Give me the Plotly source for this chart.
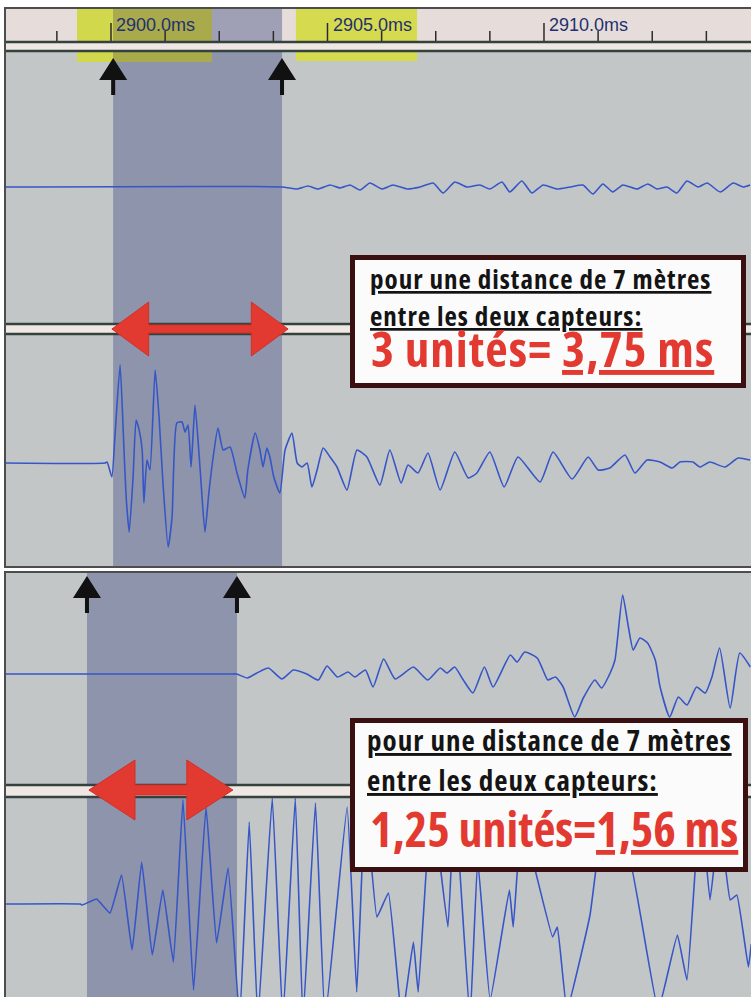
import plotly.graph_objects as go

# ---------------- data ----------------
# ruler of the upper record (ms)
top_ticks_major = [2900.0, 2905.0, 2910.0]
top_tick_labels = ["2900.0ms", "2905.0ms", "2910.0ms"]
top_ticks_minor = [2898.75, 2901.25, 2902.5, 2903.75, 2906.25, 2907.5,
                   2908.75, 2911.25, 2912.5, 2913.75]
# cursors (ms)
top_cursors_ms = [2900.05, 2903.95]
bottom_cursors_ms = [0.0, 1.5625]
# red measuring arrows (ms)
top_span_ms = [2900.02, 2904.09]
bottom_span_ms = [0.02, 1.52]

# upper record, channel 1 (time ms, amplitude)
top_ch1_t = [2897.55, 2903.95, 2904.30, 2904.55, 2904.78, 2905.06, 2905.29, 2905.52, 2905.75, 2905.98,
             2906.26, 2906.51, 2906.84, 2907.14, 2907.44, 2907.67, 2907.94, 2908.22, 2908.52, 2908.75,
             2909.03, 2909.21, 2909.49, 2909.72, 2909.98, 2910.30, 2910.60, 2910.90, 2911.13, 2911.36,
             2911.59, 2911.82, 2912.15, 2912.40, 2912.61, 2912.84, 2913.07, 2913.30, 2913.56, 2913.77,
             2914.07, 2914.37, 2914.60, 2914.76]
top_ch1_a = [0, 0, -2, 1, -2, 2, -1, 2, -3, 4,
             -2, 2, -2, 0, 4, -6, 5, 0, 2, -2,
             5, -5, 6, -6, 2, -2, 0, 2, -7, 3,
             -5, 2, -2, 3, -2, 0, -6, 6, 0, 4,
             -5, 4, 0, 2]

# upper record, channel 2
top_ch2_t = [2897.55, 2899.86, 2899.91, 2900.02, 2900.09, 2900.21, 2900.30, 2900.35, 2900.42, 2900.51,
             2900.58, 2900.65, 2900.72, 2900.76, 2900.83, 2900.90, 2901.02, 2901.11, 2901.20, 2901.32,
             2901.41, 2901.52, 2901.64, 2901.71, 2901.78, 2901.85, 2901.94, 2902.06, 2902.17, 2902.26,
             2902.36, 2902.47, 2902.59, 2902.75, 2902.91, 2903.09, 2903.16, 2903.33, 2903.44, 2903.51,
             2903.60, 2903.67, 2903.76, 2903.90, 2904.02, 2904.18, 2904.30, 2904.41, 2904.53, 2904.64,
             2904.76, 2904.90, 2905.06, 2905.22, 2905.45, 2905.68, 2905.91, 2906.21, 2906.44, 2906.70,
             2906.86, 2907.09, 2907.32, 2907.60, 2907.94, 2908.25, 2908.45, 2908.75, 2909.08, 2909.40,
             2909.91, 2910.21, 2910.65, 2911.02, 2911.25, 2911.52, 2911.87, 2912.10, 2912.38, 2912.68,
             2912.96, 2913.14, 2913.44, 2913.60, 2913.83, 2914.18, 2914.48, 2914.76]
top_ch2_a = [0, 0, 1, -14, 26, 98, 13, -34, -69, -14,
             43, 33, 13, -40, 3, -7, 93, 46, -20, -84,
             -54, 40, 41, 31, 38, -4, 58, -7, -69, -30,
             6, 35, 13, 16, -10, -35, -7, 30, 13, -4,
             15, 6, -14, -30, 13, 30, 0, -4, 0, -24,
             -7, 15, 6, -4, -27, 13, 6, -22, 13, -20,
             -2, -10, 10, -27, 11, -15, -10, 11, -24, 6,
             -19, 11, -16, 6, -7, -5, 8, -10, 3, 1,
             -5, 1, 1, -4, 1, -4, 5, 3]

# lower record, channel 1 (time ms after first cursor, amplitude)
bot_ch1_t = [-0.85, 1.49, 1.56, 1.67, 1.77, 1.89, 2.03, 2.15, 2.29, 2.41,
             2.50, 2.61, 2.72, 2.79, 2.90, 2.98, 3.09, 3.21, 3.40, 3.55,
             3.68, 3.75, 3.83, 3.92, 4.02, 4.14, 4.23, 4.41, 4.48, 4.56,
             4.69, 4.75, 4.80, 4.88, 4.96, 5.08, 5.17, 5.29, 5.36, 5.45,
             5.50, 5.58, 5.64, 5.69, 5.76, 5.84, 5.92, 5.97, 6.07, 6.16,
             6.25, 6.35, 6.44, 6.51, 6.59, 6.70, 6.80, 6.91]
bot_ch1_a = [0, 0, 0, -4, 1, 6, -5, 4, 0, -6,
             8, -3, 2, -3, 4, -13, 15, -5, 7, -6,
             6, 1, 7, -6, -19, 7, -13, 19, 12, 22,
             16, 4, -6, -3, -13, -43, -24, -6, -14, 1,
             14, 79, 47, 24, 36, 31, 14, -13, -43, -23,
             -31, -13, -19, -3, 26, -34, 21, 7]

# lower record, channel 2
bot_ch2_t = [-0.85, -0.07, -0.05, 0.10, 0.24, 0.36, 0.47, 0.57, 0.68, 0.79,
             0.90, 1.00, 1.11, 1.24, 1.35, 1.47, 1.59, 1.69, 1.78, 1.93,
             2.04, 2.17, 2.25, 2.38, 2.48, 2.71, 2.81, 2.90, 3.02, 3.14,
             3.28, 3.40, 3.45, 3.59, 3.76, 3.83, 3.99, 4.07, 4.20, 4.40,
             4.44, 4.53, 4.85, 4.90, 5.00, 5.24, 5.40, 5.53, 5.64, 5.95,
             6.15, 6.25, 6.39, 6.49, 6.59, 6.70, 6.77, 6.89, 6.92]
bot_ch2_a = [0, 0, -1, 5, -9, 29, -46, 42, -51, 14,
             -58, 104, -86, 97, -39, 36, -115, 82, -115, 106,
             -115, 106, -115, 101, -115, 97, -88, 106, -13, 11,
             -115, -38, -88, 106, -23, 106, -115, 44, -96, 14,
             -23, 84, -33, -23, -106, -11, 104, 40, 50, -106,
             -31, -76, 104, 4, 84, 4, 9, -63, -40]

# ---------------- layout geometry (pixels of the 751x997 page) ----------------
W, H = 751, 997
LEFT = 5
TOP_T, TOP_B = 8, 567
BOT_T, BOT_B = 572, 997


def pxx(x):
    return x / W


def pxy(y):
    return 1 - y / H


def ty(row):          # value on the upper panel's y axis for a pixel row
    return TOP_B - row


def by(row):          # value on the lower panel's y axis for a pixel row
    return BOT_B - row


top_xrange = [2897.552, 2914.781]
bot_xrange = [-0.854, 6.917]

BLUE = "#3656c8"
BG = "#c3c6c7"
SHADE = "#586190"
LINE_DARK = "#34423e"
STRIP = "#efe7e3"
RED = "#e23a30"

TOP_BASE1, TOP_BASE2 = ty(187), ty(463)
BOT_BASE1, BOT_BASE2 = by(674), by(904)

fig = go.Figure()


def add_trace(t, a, base, xa, ya, smooth):
    fig.add_trace(go.Scatter(x=t, y=[base + v for v in a], mode="lines",
                             line=dict(color=BLUE, width=1.6, shape="spline", smoothing=smooth),
                             xaxis=xa, yaxis=ya, hoverinfo="skip",
                             showlegend=False))


add_trace(top_ch1_t, top_ch1_a, TOP_BASE1, "x", "y", 0.5)
add_trace(top_ch2_t, top_ch2_a, TOP_BASE2, "x", "y", 0.5)
add_trace(bot_ch1_t, bot_ch1_a, BOT_BASE1, "x2", "y2", 0.5)
add_trace(bot_ch2_t, bot_ch2_a, BOT_BASE2, "x2", "y2", 0.3)

shapes = []


def rect(x0, x1, y0, y1, fill, xref="x", yref="y", layer="below", opacity=1.0, lw=0, lc=None):
    shapes.append(dict(type="rect", xref=xref, yref=yref, x0=x0, x1=x1, y0=y0, y1=y1,
                       fillcolor=fill, opacity=opacity, layer=layer,
                       line=dict(width=lw, color=lc or fill)))


def hline(y, x0, x1, xref, yref, color=LINE_DARK, width=2.5, layer="below"):
    shapes.append(dict(type="line", xref=xref, yref=yref, x0=x0, x1=x1, y0=y, y1=y,
                       line=dict(color=color, width=width), layer=layer))


# ---- upper panel ----
rect(top_xrange[0], top_xrange[1], ty(42), ty(8), "#e6ddda")                # ruler band
rect(top_cursors_ms[0], top_cursors_ms[1], 0, ty(8), SHADE, opacity=0.5)     # measured window
rect(2899.215, top_cursors_ms[0], ty(62), ty(9), "#d2d84b")                  # yellow marks
rect(top_cursors_ms[0], 2902.33, ty(62), ty(9), "#a9aa4b")
rect(2904.27, 2907.07, ty(61), ty(9), "#d6da4e")
for t in top_ticks_minor:
    shapes.append(dict(type="line", xref="x", yref="y", x0=t, x1=t, y0=ty(41), y1=ty(31),
                       line=dict(color="#2b2b2b", width=1.5), layer="below"))
for t in top_ticks_major:
    shapes.append(dict(type="line", xref="x", yref="y", x0=t, x1=t, y0=ty(41), y1=ty(23),
                       line=dict(color="#2b2b2b", width=1.5), layer="below"))
rect(top_xrange[0], top_xrange[1], ty(51), ty(42), STRIP)
hline(ty(42), top_xrange[0], top_xrange[1], "x", "y")
hline(ty(51), top_xrange[0], top_xrange[1], "x", "y")
rect(top_xrange[0], top_xrange[1], ty(334), ty(324), STRIP)
hline(ty(324), top_xrange[0], top_xrange[1], "x", "y")
hline(ty(334), top_xrange[0], top_xrange[1], "x", "y")

# ---- lower panel ----
rect(bottom_cursors_ms[0], bottom_cursors_ms[1], 0, by(BOT_T), SHADE, xref="x2", yref="y2", opacity=0.5)
rect(bot_xrange[0], bot_xrange[1], by(797), by(785), STRIP, xref="x2", yref="y2")
hline(by(785), bot_xrange[0], bot_xrange[1], "x2", "y2")
hline(by(797), bot_xrange[0], bot_xrange[1], "x2", "y2")


# ---- red double arrows ----
def double_arrow(L, R, hl, yc, hh, st, xref, yref):
    pts = [(L, yc), (L + hl, yc + hh), (L + hl, yc + st), (R - hl, yc + st), (R - hl, yc + hh),
           (R, yc), (R - hl, yc - hh), (R - hl, yc - st), (L + hl, yc - st), (L + hl, yc - hh)]
    path = "M" + " L".join(f"{x},{y}" for x, y in pts) + " Z"
    shapes.append(dict(type="path", xref=xref, yref=yref, path=path, fillcolor=RED,
                       line=dict(color="#d2302a", width=1), layer="above"))


double_arrow(top_span_ms[0], top_span_ms[1], 0.85, ty(329), 27, 4, "x", "y")
double_arrow(bottom_span_ms[0], bottom_span_ms[1], 0.48, by(790), 30, 5, "x2", "y2")

# ---- black cursor arrows ----
CURSOR_PATH = "M0,0 L14,-22 L2,-22 L2,-37 L-2,-37 L-2,-22 L-14,-22 Z"
for t in top_cursors_ms:
    shapes.append(dict(type="path", xref="x", yref="y", xsizemode="pixel", ysizemode="pixel",
                       xanchor=t, yanchor=ty(58), path=CURSOR_PATH, fillcolor="#111111",
                       line=dict(width=0), layer="above"))
for t in bottom_cursors_ms:
    shapes.append(dict(type="path", xref="x2", yref="y2", xsizemode="pixel", ysizemode="pixel",
                       xanchor=t, yanchor=by(576), path=CURSOR_PATH, fillcolor="#111111",
                       line=dict(width=0), layer="above"))

# ---- text boxes ----
BOX_LINE = "#3b1010"
rect(pxx(352.5), pxx(743.5), pxy(385.5), pxy(257.5), "#fbfbfb", xref="paper", yref="paper",
     layer="above", lw=5, lc=BOX_LINE)
rect(pxx(352.5), pxx(745.5), pxy(869.5), pxy(720.5), "#fbfbfb", xref="paper", yref="paper",
     layer="above", lw=5, lc=BOX_LINE)

# ---- panel frames ----
for xr, yr in (("x domain", "y domain"), ("x2 domain", "y2 domain")):
    shapes.append(dict(type="rect", xref=xr, yref=yr, x0=0, x1=1.02, y0=-0.01 if xr.startswith("x2") else 0,
                       y1=1, line=dict(color="#4d4d4d", width=2), fillcolor="rgba(0,0,0,0)",
                       layer="above"))

annotations = []
for t, lab in zip(top_ticks_major, top_tick_labels):
    annotations.append(dict(xref="x", yref="y", x=t + 0.07, y=ty(25), text=lab, showarrow=False,
                            xanchor="left", yanchor="middle",
                            font=dict(family="Liberation Sans, Arial, sans-serif", size=18,
                                      color="#23306f")))

OPEN = "Open Sans, DejaVu Sans Condensed, sans-serif"


def line_text(x, y, text, size, color):
    annotations.append(dict(xref="paper", yref="paper", x=pxx(x), y=pxy(y), text=text,
                            showarrow=False, xanchor="left", yanchor="middle",
                            font=dict(family=OPEN, size=size, color=color)))


SP = '<span style="font-stretch:75%;letter-spacing:1px">'
SP0 = '<span style="font-stretch:75%">'
line_text(368, 278, f"<b><u>{SP}pour une distance de 7 mètres</span></u></b>", 27, "#141414")
line_text(368, 316, f"<b><u>{SP}entre les deux capteurs:</span></u></b>", 27, "#141414")
line_text(369, 348, f"<b>{SP}3 unités= <u>3,75 ms</u></span></b>", 49, RED)
line_text(365, 739, f"<b><u>{SP}pour une distance de 7 mètres</span></u></b>", 29, "#141414")
line_text(365, 779, f"<b><u>{SP}entre les deux capteurs:</span></u></b>", 29, "#141414")
line_text(368, 828, f"<b>{SP0}1,25 unités=<u>1,56 ms</u></span></b>", 48, RED)

fig.update_layout(
    width=W, height=H, margin=dict(l=0, r=0, t=0, b=0),
    paper_bgcolor="white", plot_bgcolor=BG,
    xaxis=dict(domain=[pxx(LEFT), 1], range=top_xrange, visible=False, fixedrange=True, anchor="y"),
    yaxis=dict(domain=[pxy(TOP_B), pxy(TOP_T)], range=[0, ty(TOP_T)], visible=False,
               fixedrange=True, anchor="x"),
    xaxis2=dict(domain=[pxx(LEFT), 1], range=bot_xrange, visible=False, fixedrange=True, anchor="y2"),
    yaxis2=dict(domain=[0, pxy(BOT_T)], range=[0, by(BOT_T)], visible=False, fixedrange=True,
                anchor="x2"),
    shapes=shapes, annotations=annotations, showlegend=False,
)

fig.write_html("out.html", config={"displayModeBar": False},
               post_script="document.body.style.margin='0px';")
